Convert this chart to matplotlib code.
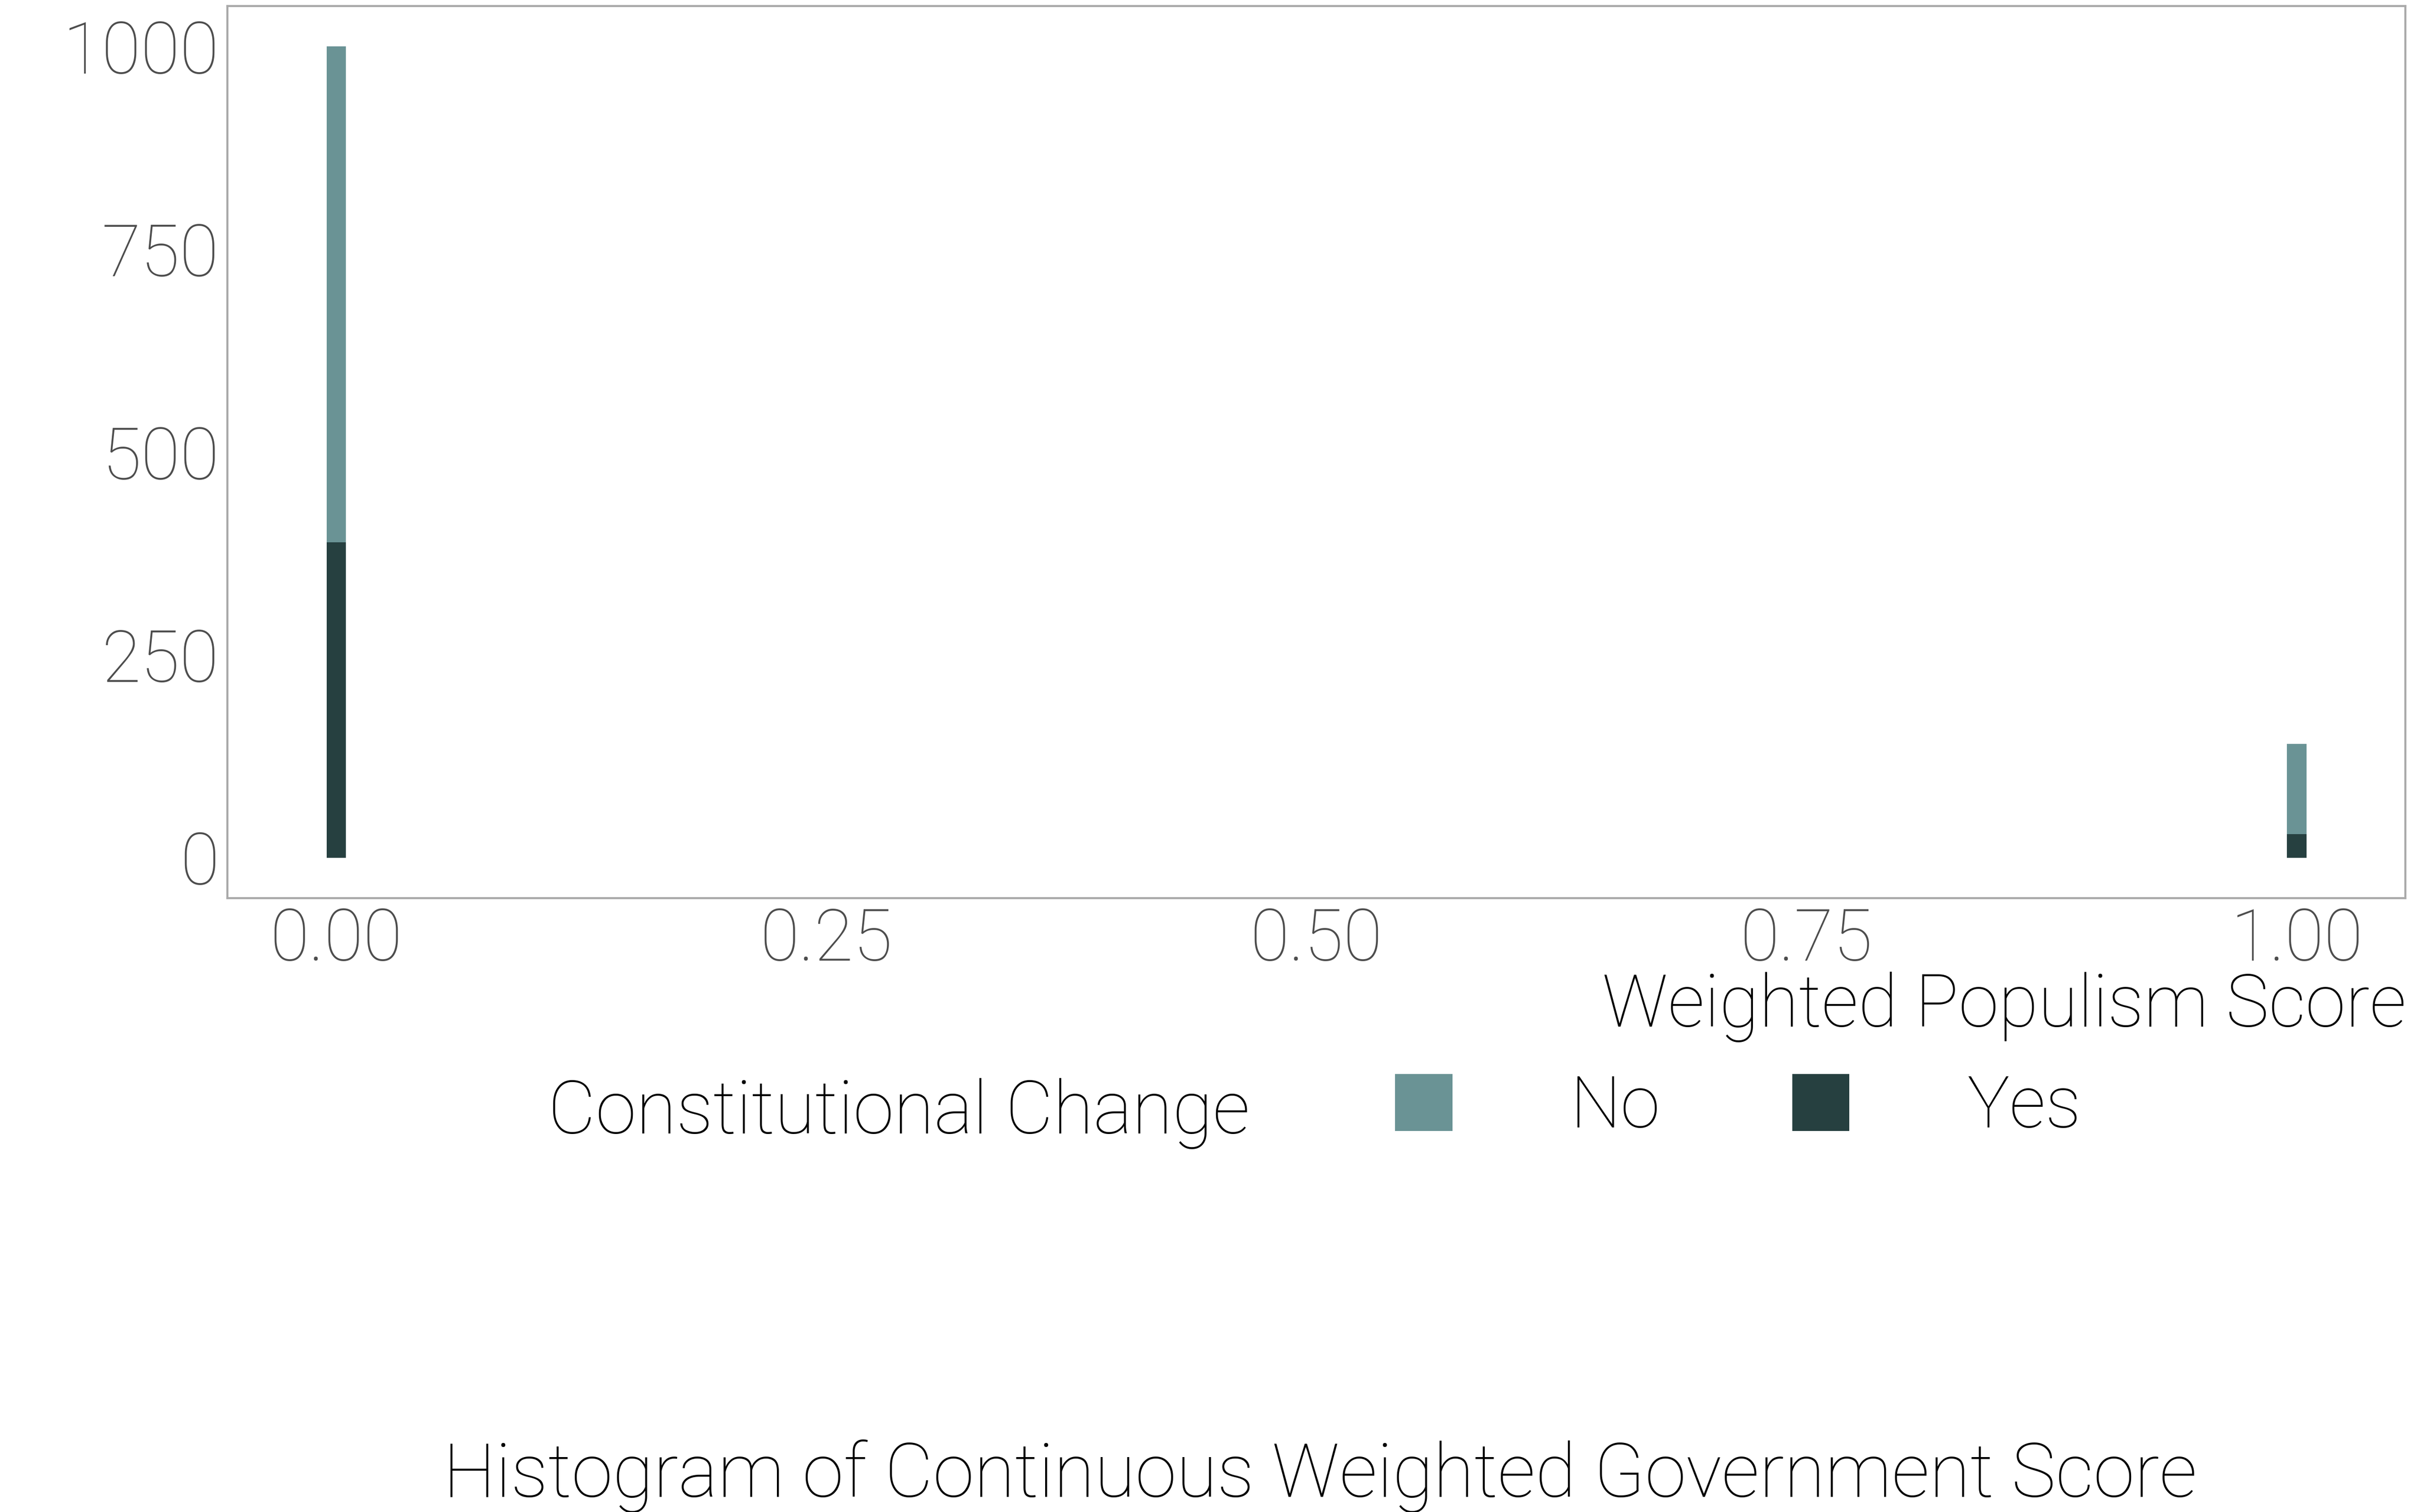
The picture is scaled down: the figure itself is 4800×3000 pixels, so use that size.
import matplotlib
matplotlib.use("Agg")
import matplotlib.pyplot as plt
from matplotlib.patches import Patch

# histogram counts
bin_centers = [0.0, 1.0]
count_yes = [389, 29]
count_no = [611, 111]
bin_width = 0.01

col_no = "#6A9395"
col_yes = "#264040"

plt.rcParams['font.family'] = ['Roboto', 'DejaVu Sans']
plt.rcParams['font.weight'] = 'light'
fs = 34

fig = plt.figure(figsize=(16, 10), dpi=300)
ax = fig.add_axes([0.094, 0.406, 0.9, 0.59])

ax.bar(bin_centers, count_yes, width=bin_width, color=col_yes, linewidth=0)
ax.bar(bin_centers, count_no, width=bin_width, bottom=count_yes, color=col_no, linewidth=0)

ax.set_xlim(-0.0555, 1.0555)
ax.set_ylim(-50, 1050)
ax.set_xticks([0, 0.25, 0.5, 0.75, 1.0])
ax.set_xticklabels(["0.00", "0.25", "0.50", "0.75", "1.00"])
ax.set_yticks([0, 250, 500, 750, 1000])
ax.tick_params(length=0, labelsize=fs, labelcolor="#4D4D4D", pad=4)
for s in ax.spines.values():
    s.set_color("#AAAAAA")
    s.set_linewidth(1.0)

fig.text(0.9944, 1 - 2037 / 3000, "Weighted Populism Score", ha="right",
         va="baseline", fontsize=fs + 0.5, color="black")

fig.text(0.2265, 1 - 2249 / 3000, "Constitutional Change", ha="left",
         va="baseline", fontsize=fs + 1, color="black")
handles = [Patch(facecolor=col_no, edgecolor="none"), Patch(facecolor=col_yes, edgecolor="none")]
fig.legend(handles, ["No", "Yes"], ncol=2, loc="center left",
           bbox_to_anchor=(0.5765, 1 - 2197 / 3000), frameon=False, fontsize=fs,
           handlelength=0.8, handleheight=0.85, handletextpad=1.65,
           columnspacing=1.85, borderpad=0, borderaxespad=0)

fig.text(0.5454, 0.01, "Histogram of Continuous Weighted Government Score",
         ha="center", va="baseline", fontsize=fs + 1.5, color="black")

fig.savefig("out.png", dpi=300)
